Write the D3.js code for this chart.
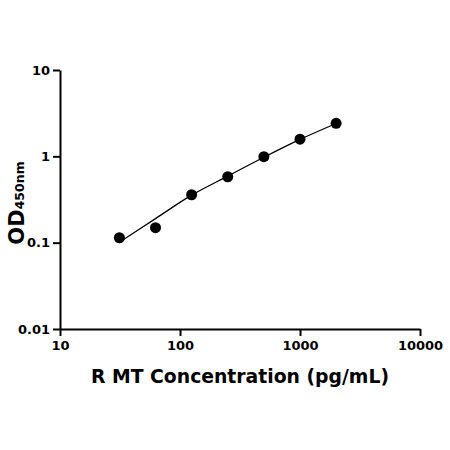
<!DOCTYPE html>
<html><head><meta charset="utf-8">
<script src="https://cdn.jsdelivr.net/npm/d3@7"></script>
<style>body{margin:0;background:#fff}</style>
</head><body>
<svg id="c" width="450" height="450"></svg>
<script>
const concentrations = [31.25, 62.5, 125, 250, 500, 1000, 2000];
const odValues = [0.114, 0.149, 0.359, 0.58, 0.99, 1.58, 2.41];
const fitConc = [31.25, 62.5, 125, 250, 500, 1000, 2000];
const fitOD = [0.101, 0.19, 0.355, 0.59, 0.975, 1.57, 2.4];
const xTicks = [10, 100, 1000, 10000];
const xTickLabels = ["10", "100", "1000", "10000"];
const yTicks = [0.01, 0.1, 1, 10];
const yTickLabels = ["0.01", "0.1", "1", "10"];

const svg = d3.select("#c");
const font = "'DejaVu Sans', sans-serif";
const x = d3.scaleLog().domain([10, 10000]).range([60, 420]);
const y = d3.scaleLog().domain([0.01, 10]).range([329, 70]);

const xa = svg.append("g").attr("transform", "translate(0,329)")
  .call(d3.axisBottom(x).tickValues(xTicks).tickFormat((d,i)=>xTickLabels[i]).tickSize(7).tickSizeOuter(0));
const ya = svg.append("g").attr("transform", "translate(60,0)")
  .call(d3.axisLeft(y).tickValues(yTicks).tickFormat((d,i)=>yTickLabels[i]).tickSize(7).tickSizeOuter(0));
[xa, ya].forEach(a => {
  a.select(".domain").attr("stroke", "#000").attr("stroke-width", 2);
  a.selectAll(".tick line").attr("stroke", "#000").attr("stroke-width", 2);
  a.selectAll(".tick text").attr("fill", "#000").style("font-family", font)
    .style("font-weight", "bold").style("font-size", "13px");
});
xa.selectAll(".tick text").attr("dy", "0.95em").attr("y", 9);
ya.selectAll(".tick text").attr("x", -10);

const line = d3.line().x(d => x(d[0])).y(d => y(d[1])).curve(d3.curveCatmullRom);
svg.append("path").datum(fitConc.map((c,i)=>[c, fitOD[i]]))
  .attr("d", line).attr("fill", "none").attr("stroke", "#000").attr("stroke-width", 1.3);

svg.selectAll("circle.pt").data(concentrations.map((c,i)=>[c, odValues[i]])).enter()
  .append("circle").attr("class","pt").attr("cx", d=>x(d[0])).attr("cy", d=>y(d[1]))
  .attr("r", 5.5).attr("fill", "#000");

svg.append("text").attr("x", 240).attr("y", 383).attr("text-anchor", "middle")
  .style("font-family", font).style("font-weight", "bold").style("font-size", "18.8px")
  .text("R MT Concentration (pg/mL)");

const yt = svg.append("text").attr("transform", "translate(24,203) rotate(-90)")
  .attr("text-anchor", "middle").style("font-family", font).style("font-weight", "bold");
yt.append("tspan").style("font-size", "21px").text("OD");
yt.append("tspan").style("font-size", "12.5px").text("450nm");
</script>
</body></html>
